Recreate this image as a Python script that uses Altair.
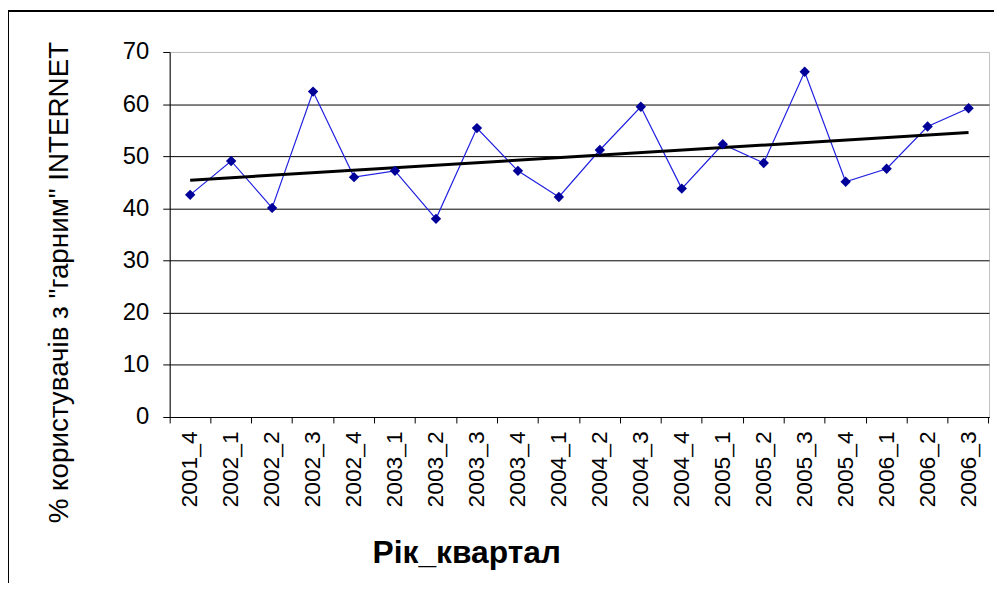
import altair as alt
import pandas as pd

labels = ["2001_4", "2002_1", "2002_2", "2002_3", "2002_4", "2003_1", "2003_2",
          "2003_3", "2003_4", "2004_1", "2004_2", "2004_3", "2004_4", "2005_1",
          "2005_2", "2005_3", "2005_4", "2006_1", "2006_2", "2006_3"]
values = [42.6, 49.1, 40.1, 62.4, 46.0, 47.2, 38.0, 55.4, 47.2, 42.2,
          51.2, 59.5, 43.8, 52.3, 48.7, 66.2, 45.1, 47.6, 55.7, 59.2]
y_ticks = [0, 10, 20, 30, 40, 50, 60, 70]

df = pd.DataFrame({"idx": list(range(len(labels))), "label": labels, "pct": values})

W, H = 826, 368
FONT = "Liberation Sans"

xscale = alt.Scale(type="band", domain=labels, paddingInner=0, paddingOuter=0)
yscale = alt.Scale(domain=[0, 70], nice=False)

xaxis = alt.Axis(
    title="Рік_квартал", labelAngle=-90, labelFontSize=23, labelFont=FONT,
    labelColor="black", labelPadding=8, tickSize=6, tickColor="black",
    domainColor="black", bandPosition=1, tickExtra=True, grid=False,
    titleFont=FONT, titleFontSize=32, titleFontWeight="bold", titleColor="black",
    titleX=299, titleY=147, titleAlign="center", titleBaseline="alphabetic",
)
yaxis = alt.Axis(
    title='% користувачів з "гарним" INTERNET', values=y_ticks,
    labelFontSize=24, labelFont=FONT, labelColor="black", labelPadding=14,
    tickSize=7, tickColor="black", domainColor="black",
    grid=True, gridColor=alt.condition("datum.value == 70", alt.value("#c0c0c0"), alt.value("black")),
    gridWidth=1, titleFont=FONT, titleFontSize=28, titleFontWeight="normal",
    titleColor="black", titleX=-103, titleY=232, titleAngle=-90,
    titleAlign="center", titleBaseline="alphabetic",
)

base = alt.Chart(df)

line = base.mark_line(color="#2020e0", strokeWidth=1.2).encode(
    x=alt.X("label:N", scale=xscale, axis=xaxis, sort=labels),
    y=alt.Y("pct:Q", scale=yscale, axis=yaxis),
)
points = base.mark_point(shape="diamond", filled=True, size=110, color="#000099", opacity=1).encode(
    x=alt.X("label:N", scale=xscale, sort=labels),
    y=alt.Y("pct:Q", scale=yscale),
)
trend = base.transform_regression("idx", "pct").transform_lookup(
    lookup="idx", from_=alt.LookupData(data=df, key="idx", fields=["label"])
).mark_line(color="black", strokeWidth=3).encode(
    x=alt.X("label:N", scale=xscale, sort=labels),
    y=alt.Y("pct:Q", scale=yscale),
)

frame_top = alt.Chart(df).mark_rule(color="black", strokeWidth=1).encode(
    x=alt.value(-162.5), x2=alt.value(W + 10), y=alt.value(-41.5)
)
frame_left = alt.Chart(df).mark_rule(color="black", strokeWidth=1).encode(
    x=alt.value(-162.5), y=alt.value(-41.5), y2=alt.value(H + 170)
)

chart = alt.layer(line, trend, points, frame_top, frame_left).properties(
    width=W, height=H,
    autosize=alt.AutoSizeParams(type="none"),
    padding={"left": 163, "top": 42, "right": 5, "bottom": 165},
    background="white",
).configure_view(stroke="#c0c0c0", strokeWidth=1)

chart.save("out.html", embed_options={"renderer": "svg", "actions": False})
